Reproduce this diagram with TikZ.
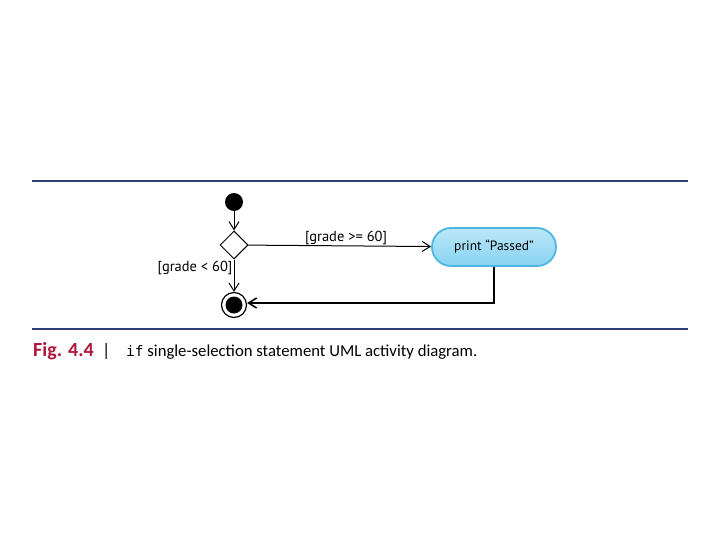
\documentclass[tikz,border=0pt]{standalone}
\usepackage{fontspec}
\setmainfont{Carlito}
\newfontfamily\labfont{PT Sans}
\setmonofont{DejaVu Sans Mono}
\usetikzlibrary{shapes.geometric,arrows.meta}
\definecolor{rulecol}{HTML}{2A3F6E}
\definecolor{figred}{HTML}{B0163A}
\definecolor{actfill}{HTML}{86D3F2}
\definecolor{actdraw}{HTML}{4FB6E3}
\tikzset{
  flow/.style={draw=black, line width=1pt, -{Straight Barb[length=8pt,width=10pt]}},
  lab/.style={font=\labfont\fontsize{14.5}{16}\selectfont, inner sep=1pt},
  actbox/.style={rounded corners=19pt, minimum width=124pt, minimum height=38pt,
    draw=actdraw, line width=1.8pt, top color=actfill!55!white, bottom color=actfill,
    font=\labfont\fontsize{13.5}{15}\selectfont},
}
\begin{document}
\begin{tikzpicture}[x=1pt,y=-1pt]
\useasboundingbox (0,0) rectangle (720,540);
\draw[rulecol, line width=1.2pt] (32,181) -- (688,181);
\draw[rulecol, line width=1.2pt] (32,329) -- (688,329);
\node[circle, fill=black, minimum size=18pt, inner sep=0] (init) at (234,202) {};
\node[diamond, draw=black, line width=1pt, minimum size=28pt, inner sep=0, fill=white] (dec) at (234,245) {};
\node[circle, draw=black, line width=1.2pt, minimum size=25pt, inner sep=0] (fin) at (234,305) {};
\node[circle, fill=black, minimum size=17pt, inner sep=0] (finin) at (234,305) {};
\node[actbox] (act) at (494,247) {print “Passed”};
\draw[flow] (init) -- (dec);
\draw[flow] (dec) -- (act);
\draw[flow] (dec) -- (fin);
\coordinate (corner) at (494,303);
\draw[flow, line width=1.6pt] (act.south) -- (corner) -- (fin.east |- corner);
\node[lab] (l1) at (346,238) {[grade >= 60]};
\node[lab] (l2) at (195,268) {[grade < 60]};
\node[anchor=base west, inner sep=0, text=figred, font=\bfseries\fontsize{20}{22}\selectfont] (fig) at (33,356) {Fig. 4.4};
\node[anchor=base west, inner sep=0, font=\fontsize{18}{22}\selectfont] (bar) at (102,356) {|};
\node[anchor=base west, inner sep=0, font=\fontsize{16.7}{20}\selectfont] (cap) at (126,356) {{\ttfamily\fontsize{14.5}{20}\selectfont if} single-selection statement UML activity diagram.};
\end{tikzpicture}
\end{document}
